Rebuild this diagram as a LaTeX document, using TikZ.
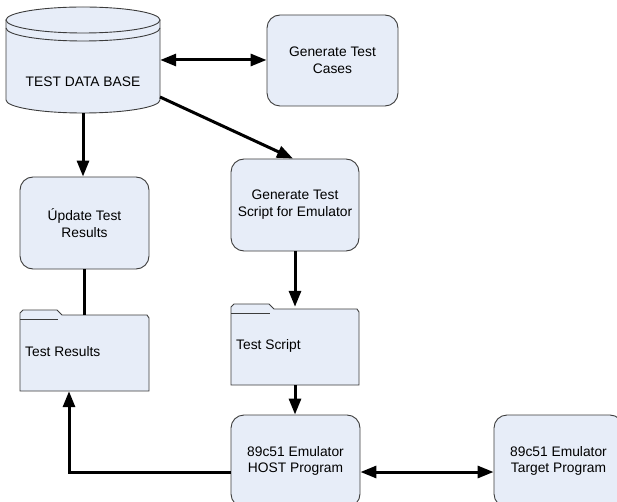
\documentclass[tikz,border=0pt]{standalone}
\usepackage{fontspec}
\setmainfont{Liberation Sans}
\usetikzlibrary{arrows.meta}
\definecolor{boxfill}{RGB}{231,237,248}
\definecolor{boxline}{RGB}{60,60,60}
\tikzset{
 box/.style={draw=boxline, fill=boxfill, line width=0.9pt, rounded corners=13pt, align=center, inner sep=0, font=\fontsize{13.8}{16.8}\selectfont},
 conn/.style={line width=3pt, -{Triangle[length=16pt,width=12pt]}},
 dconn/.style={line width=3pt, {Triangle[length=16pt,width=12pt]}-{Triangle[length=16pt,width=12pt]}},
 plainline/.style={line width=3pt},
 outline/.style={draw=boxline, fill=boxfill, line width=0.9pt},
 lbl/.style={font=\fontsize{13.8}{16.8}\selectfont, inner sep=0},
 holder/.style={inner sep=0, draw=none}
}
\begin{document}
\begin{tikzpicture}[x=1pt,y=1pt]
\useasboundingbox (0,0) rectangle (617,-502);
\clip (0,0) rectangle (617,-502);
% database cylinder
\path[outline] (6,-20) -- (6,-100) arc[start angle=180,end angle=360,x radius=77,y radius=13] -- (160,-20) -- cycle;
\path[outline] (83,-20) ellipse [x radius=77, y radius=13];
\draw[boxline, line width=0.9pt] (6,-28) arc[start angle=180,end angle=360,x radius=77,y radius=13];
\node[holder, minimum width=154pt, minimum height=106pt] (db) at (83,-60) {};
\node[lbl] (dbtext) at (83,-82) {TEST DATA BASE};
\coordinate (dbtap) at (160,-97);
% boxes
\node[box, minimum width=131pt, minimum height=91pt] (cases) at (332.5,-60.5) {Generate Test\\Cases};
\node[box, minimum width=129pt, minimum height=92pt] (update) at (84.5,-223) {Úpdate Test\\Results};
\node[box, minimum width=128pt, minimum height=92pt] (script) at (295,-205) {Generate Test\\Script for Emulator};
\node[box, minimum width=129pt, minimum height=92pt] (host) at (295.5,-461) {89c51 Emulator\\HOST Program};
\node[box, minimum width=129pt, minimum height=92pt] (target) at (558.5,-461) {89c51 Emulator\\Target Program};
% folders
\path[outline] (20,-391) -- (20,-313) -- (23,-310) -- (57,-310) -- (62,-315) -- (147,-315) -- (149,-318) -- (149,-391) -- cycle;
\draw[boxline, line width=0.9pt] (20,-319) -- (58,-319);
\node[holder, minimum width=129pt, minimum height=76pt] (results) at (84.5,-353) {};
\node[lbl, anchor=west] (resultstext) at (25,-352) {Test Results};
\path[outline] (231,-385) -- (231,-307) -- (234,-304) -- (269,-304) -- (274,-309) -- (357,-309) -- (359,-312) -- (359,-385) -- cycle;
\draw[boxline, line width=0.9pt] (231,-313) -- (270,-313);
\node[holder, minimum width=128pt, minimum height=76pt] (testscript) at (295,-347) {};
\node[lbl, anchor=west] (testscripttext) at (236,-346) {Test Script};
% connectors
\draw[dconn] (db.east) -- (db.east -| cases.west);
\draw[conn] (db.south) -- (db.south |- update.north);
\draw[conn] (dbtap) -- ([xshift=-2pt]script.north);
\draw[plainline] (update.south) -- (update.south |- results.north);
\draw[conn] (script.south) -- ([yshift=2pt]testscript.north);
\draw[conn] (testscript.south) -- (testscript.south |- host.north);
\draw[conn] ([yshift=-11pt]host.west) -| ([xshift=-15.5pt]results.south);
\draw[dconn] ([yshift=-11pt]host.east) -- ([yshift=-11pt]host.east -| target.west);
\end{tikzpicture}
\end{document}
